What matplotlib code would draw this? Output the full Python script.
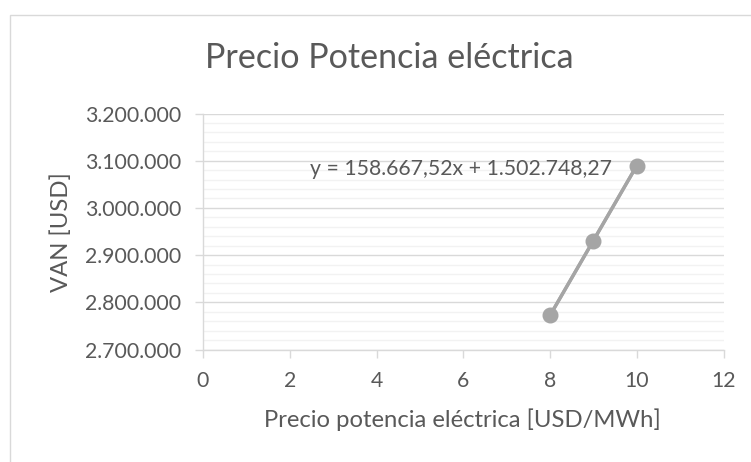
import matplotlib
matplotlib.use("Agg")
import matplotlib.pyplot as plt
from matplotlib.patches import Rectangle
from matplotlib.ticker import FuncFormatter, MultipleLocator
import numpy as np

plt.rcParams['font.family'] = ['Lato', 'DejaVu Sans']

# Data
precio = [8, 9, 10]
van = [2772088, 2930756, 3089423]
pendiente = 158667.52
intercepto = 1502748.27

titulo = "Precio Potencia eléctrica"
xlabel = "Precio potencia eléctrica [USD/MWh]"
ylabel = "VAN [USD]"

TXT = "#595959"
GRID_MAJOR = "#D9D9D9"
GRID_MINOR = "#F2F2F2"
SERIE = "#A5A5A5"


def miles(v, decimales=0):
    s = f"{v:,.{decimales}f}"
    return s.replace(",", "X").replace(".", ",").replace("X", ".")


W, H = 751, 462
fig = plt.figure(figsize=(W / 100, H / 100), dpi=100)
fig.patch.set_facecolor("white")

# chart area border
fig.patches.append(Rectangle((9.5 / W, -0.05), 1.1, (H - 14.5) / H + 0.05,
                             transform=fig.transFigure, fill=False,
                             edgecolor=GRID_MAJOR, lw=1.0))

ax = fig.add_axes([203 / W, (H - 349.5) / H, 520.5 / W, 236 / H])
ax.set_xlim(0, 12)
ax.set_ylim(2700000, 3200000)
ax.xaxis.set_major_locator(MultipleLocator(2))
ax.yaxis.set_major_locator(MultipleLocator(100000))
ax.yaxis.set_minor_locator(MultipleLocator(20000))
ax.yaxis.set_major_formatter(FuncFormatter(lambda v, p: miles(v)))

ax.grid(which="minor", axis="y", color=GRID_MINOR, lw=1.0)
ax.grid(which="major", axis="y", color=GRID_MAJOR, lw=1.0)
ax.set_axisbelow(True)

for s in ["top", "right"]:
    ax.spines[s].set_visible(False)
for s in ["left", "bottom"]:
    ax.spines[s].set_color(GRID_MAJOR)
    ax.spines[s].set_linewidth(1.0)

ax.tick_params(axis="both", which="major", color=GRID_MAJOR, length=5.5,
               width=1.0, labelcolor=TXT, labelsize=15.3)
ax.tick_params(axis="y", which="minor", length=0)
ax.tick_params(axis="x", pad=10)
ax.tick_params(axis="y", pad=10)

# trendline and series
xt = np.array([min(precio), max(precio)])
ax.plot(xt, pendiente * xt + intercepto, color=SERIE, lw=2.4, zorder=3)
ax.plot(precio, van, color=SERIE, lw=2.4, marker="o", markersize=10.5,
        zorder=4, clip_on=False)

fig.text(310 / W, (H - 175) / H,
         f"y = {miles(pendiente, 2)}x + {miles(intercepto, 2)}",
         color=TXT, fontsize=15.3, va="baseline", ha="left")

# axis titles
fig.text(462.5 / W, (H - 420) / H, xlabel, color=TXT, fontsize=17.2,
         ha="center", va="center")
fig.text(61 / W, (H - 232) / H, ylabel, color=TXT, fontsize=17.2,
         ha="center", va="center", rotation=90)

fig.text(389 / W, (H - 68.3) / H, titulo, color=TXT, fontsize=24.6,
         ha="center", va="baseline")

fig.savefig("out.png", dpi=100)
